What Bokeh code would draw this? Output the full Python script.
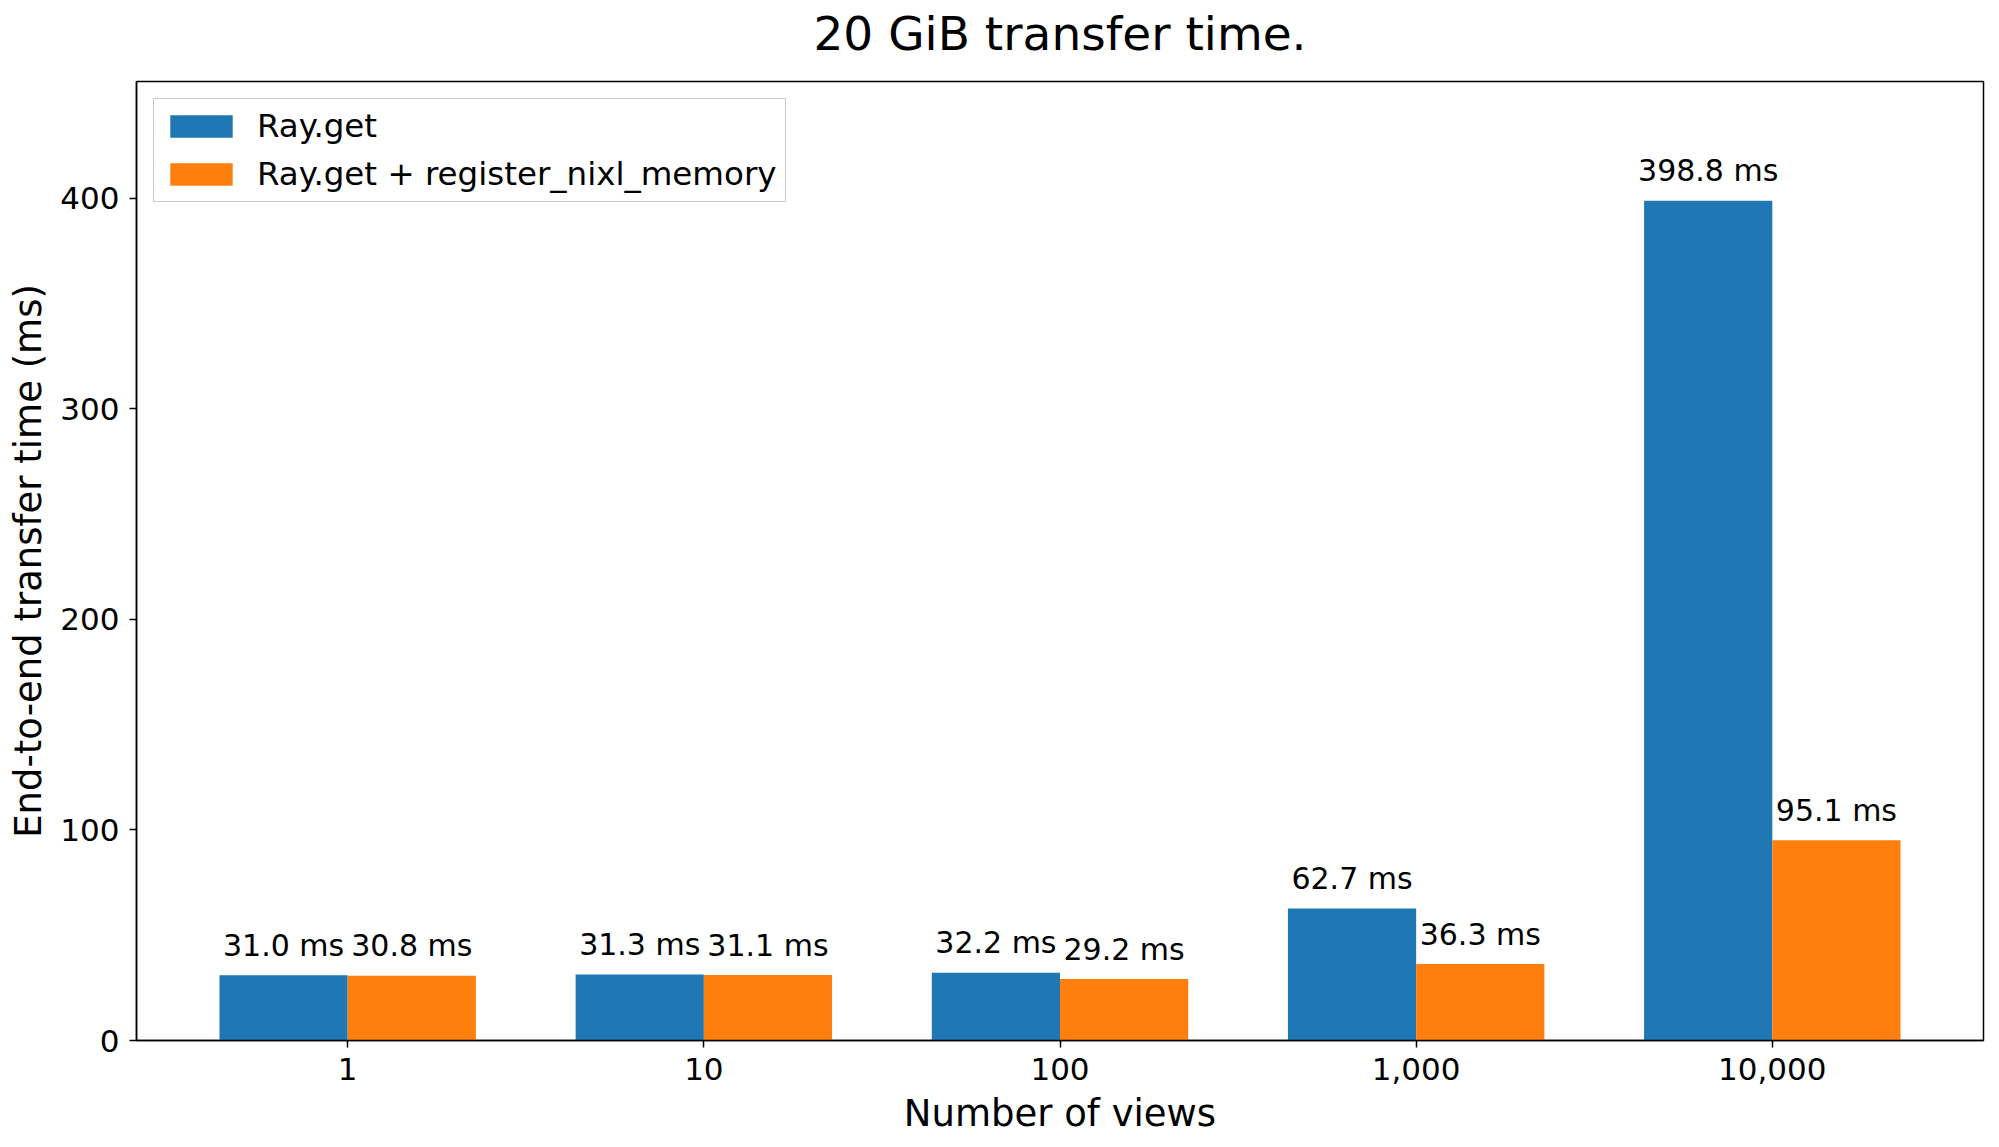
from bokeh.plotting import figure
from bokeh.models import ColumnDataSource, Range1d, FixedTicker, Legend, LegendItem, Title
from bokeh.core.properties import value
from bokeh.embed import file_html
from bokeh.resources import INLINE

# ---- data ----
views = ["1", "10", "100", "1,000", "10,000"]
ray_get = [31.0, 31.3, 32.2, 62.7, 398.8]
ray_get_nixl = [30.8, 31.1, 29.2, 36.3, 95.1]
series_names = ["Ray.get", "Ray.get + register_nixl_memory"]
colors = ["#1f77b4", "#ff7f0e"]
title_text = "20 GiB transfer time."
x_title = "Number of views"
y_title = "End-to-end transfer time (ms)"

FONT = "DejaVu Sans"
bar_w = 0.36
idx = list(range(len(views)))
x_lo, x_hi = -0.593, len(views) - 1 + 0.593

p = figure(
    width=1998, height=1146,
    output_backend="svg", toolbar_location=None,
    x_range=Range1d(x_lo, x_hi),
    y_range=Range1d(0, 455.5),
    min_border_left=136, min_border_right=15, min_border_top=81, min_border_bottom=106,
)
p.title = Title(text=title_text, align="center", vertical_align="top",
                text_font=FONT, text_font_size="47px", text_font_style="normal",
                text_color="black", standoff=0)
# thin blank spacer between the title and the frame
p.add_layout(Title(text=" ", text_font_size="15.5px", standoff=0), "above")

p.grid.visible = False
p.outline_line_color = "black"
p.outline_line_width = 1.5
p.background_fill_color = "white"
p.border_fill_color = "white"

renderers = []
for k, (vals, col) in enumerate(zip([ray_get, ray_get_nixl], colors)):
    xs = [i + (k - 0.5) * bar_w for i in idx]
    src = ColumnDataSource(dict(x=xs, top=vals, lab=[f"{v:.1f} ms" for v in vals]))
    r = p.vbar(x="x", top="top", width=bar_w, bottom=0, source=src,
               fill_color=col, line_color=None)
    renderers.append(r)
    p.text(x="x", y="top", text="lab", source=src,
           text_font=value(FONT), text_font_size="30px", text_color="black",
           text_align="center", text_baseline="alphabetic", y_offset=-30)

# axes
p.xaxis.ticker = FixedTicker(ticks=idx)
p.xaxis.major_label_overrides = {i: v for i, v in zip(idx, views)}
p.yaxis.ticker = FixedTicker(ticks=[0, 100, 200, 300, 400])
p.xaxis.axis_label = x_title
p.yaxis.axis_label = y_title
for ax in (p.xaxis, p.yaxis):
    ax.axis_line_color = "black"
    ax.axis_line_width = 1.5
    ax.major_tick_line_color = "black"
    ax.major_tick_line_width = 1.5
    ax.major_tick_in = 0
    ax.major_tick_out = 7
    ax.minor_tick_line_color = None
    ax.major_label_text_font = FONT
    ax.major_label_text_font_size = "31px"
    ax.major_label_text_color = "black"
    ax.axis_label_text_font = FONT
    ax.axis_label_text_font_size = "37px"
    ax.axis_label_text_font_style = "normal"
    ax.axis_label_text_color = "black"
p.yaxis.major_label_standoff = 10
p.yaxis.axis_label_standoff = 7
p.xaxis.major_label_standoff = 10
p.xaxis.axis_label_standoff = 9

legend = Legend(
    items=[LegendItem(label=n, renderers=[r]) for n, r in zip(series_names, renderers)],
    location="top_left",
    label_text_font=FONT, label_text_font_size="32.5px", label_text_color="black",
    glyph_width=78, glyph_height=28, label_standoff=17,
    label_height=36, spacing=10, padding=8, margin=17,
    border_line_color="#cccccc", border_line_width=1.5, border_line_alpha=1.0,
    background_fill_alpha=0.8,
)
p.add_layout(legend)

open("out.html", "w").write(file_html(p, INLINE))
